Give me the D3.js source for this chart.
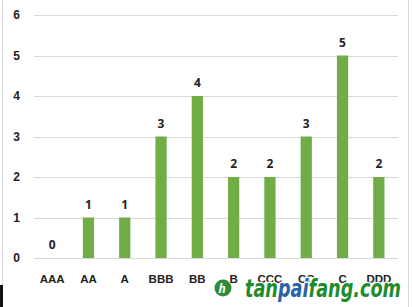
<!DOCTYPE html>
<html><head><meta charset="utf-8">
<script src="https://cdn.jsdelivr.net/npm/d3@7"></script>
<style>body{margin:0;background:#fff;}svg{display:block;font-family:"Open Sans","DejaVu Sans",sans-serif;}</style>
</head><body>
<svg id="c" width="412" height="307"></svg>
<script>
const categories = ["AAA","AA","A","BBB","BB","B","CCC","CC","C","DDD"];
const values = [0,1,1,3,4,2,2,3,5,2];
const yTicks = [0,1,2,3,4,5,6];

const svg = d3.select("#c");
// chart border
svg.append("line").attr("x1",2.5).attr("x2",2.5).attr("y1",0).attr("y2",307).attr("stroke","#d9d9d9");
svg.append("line").attr("x1",408.5).attr("x2",408.5).attr("y1",0).attr("y2",307).attr("stroke","#d9d9d9");
svg.append("rect").attr("x",0).attr("y",285).attr("width",3).attr("height",22).attr("fill","#111");

const x = d3.scaleBand().domain(categories).range([34,397]).paddingInner(0.69).paddingOuter(0.345);
const y = d3.scaleLinear().domain([0,6]).range([258,15]);

const yAxis = d3.axisLeft(y).tickValues(yTicks).tickSize(-(398-34)).tickPadding(14).tickFormat(d3.format("d"));
const gy = svg.append("g").attr("transform","translate(34,0)").call(yAxis);
gy.select(".domain").remove();
gy.selectAll(".tick line").attr("stroke","#d9d9d9").attr("shape-rendering","crispEdges");
gy.selectAll(".tick text").attr("fill","#222").attr("font-size",12).attr("font-weight","bold");

svg.append("g").selectAll("rect").data(values).join("rect")
  .attr("x",(d,i)=>x(categories[i]))
  .attr("y",d=>y(d))
  .attr("width",x.bandwidth())
  .attr("height",d=>y(0)-y(d))
  .attr("fill","#70ad47");

svg.append("g").selectAll("text").data(values).join("text")
  .attr("x",(d,i)=>x(categories[i])+x.bandwidth()/2)
  .attr("y",d=>y(d)-9)
  .attr("text-anchor","middle")
  .attr("font-size",12).attr("font-weight","bold").attr("fill","#222")
  .text(d=>d);

const xAxis = d3.axisBottom(x).tickSize(0).tickPadding(17);
const gx = svg.append("g").attr("transform","translate(0,258)").call(xAxis);
gx.select(".domain").remove();
gx.selectAll(".tick text").attr("fill","#222").attr("font-size",11.5).attr("font-weight","bold");

// watermark
const wm = svg.append("g");
wm.append("circle").attr("cx",223).attr("cy",288).attr("r",8.5).attr("fill","#2e8b3a");
wm.append("text").attr("x",222).attr("y",292.5).attr("text-anchor","middle").attr("font-size",12).attr("font-weight","bold").attr("font-style","italic").attr("fill","#fff").text("h");
const t = wm.append("text").attr("x",245).attr("y",297).attr("font-size",25).attr("font-weight","900").attr("font-style","italic")
  .attr("font-family","'DejaVu Sans',sans-serif").attr("textLength",156).attr("lengthAdjust","spacingAndGlyphs")
  .attr("stroke","#fff").attr("stroke-width",2.5).attr("paint-order","stroke");
t.append("tspan").attr("fill","#1e8b2c").text("tan");
t.append("tspan").attr("fill","#2a62a8").text("pai");
t.append("tspan").attr("fill","#1e8b2c").text("fang.com");
</script>
</body></html>
